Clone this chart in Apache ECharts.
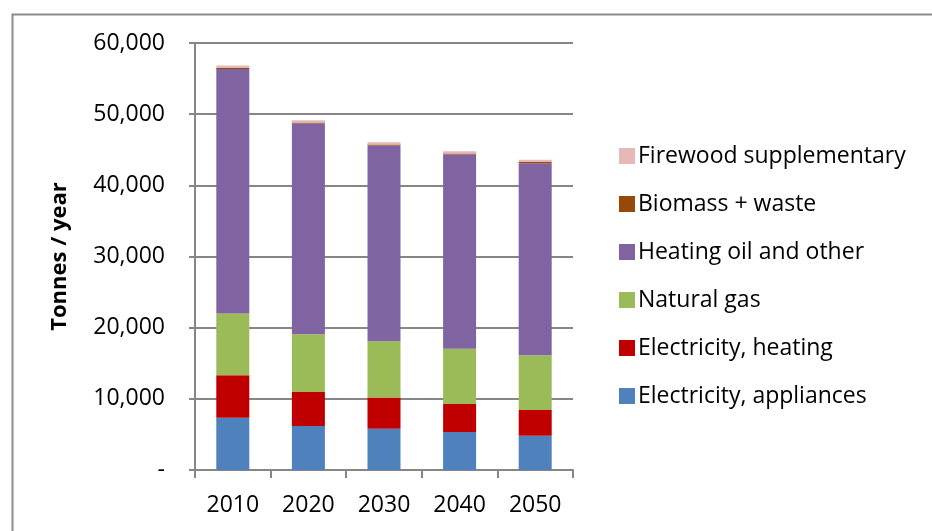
<!DOCTYPE html>
<html>
<head>
<meta charset="utf-8">
<script src="https://cdn.jsdelivr.net/npm/echarts@6/dist/echarts.min.js"></script>
<style>
html,body{margin:0;padding:0;background:#fff;}
#chart{width:932px;height:531px;}
</style>
</head>
<body>
<div id="chart"></div>
<script>
const categories = ['2010', '2020', '2030', '2040', '2050'];
const elecAppliances = [7350, 6180, 5800, 5340, 4820];
const elecHeating = [5950, 4780, 4400, 3930, 3610];
const naturalGas = [8700, 8100, 7900, 7770, 7680];
const heatingOil = [34350, 29630, 27480, 27300, 27010];
const biomassWaste = [150, 150, 150, 150, 150];
const firewood = [350, 320, 320, 310, 310];
const yTicks = [0, 10000, 20000, 30000, 40000, 50000, 60000];

const seriesDefs = [
  {name: 'Electricity, appliances', data: elecAppliances, color: '#4F81BD'},
  {name: 'Electricity, heating', data: elecHeating, color: '#C00000'},
  {name: 'Natural gas', data: naturalGas, color: '#9BBB59'},
  {name: 'Heating oil and other', data: heatingOil, color: '#8064A2'},
  {name: 'Biomass + waste', data: biomassWaste, color: '#984807'},
  {name: 'Firewood supplementary', data: firewood, color: '#E6B9B8'}
];

const FONT = '"Open Sans", "Noto Sans", sans-serif';
const chart = echarts.init(document.getElementById('chart'), null, {renderer: 'canvas'});
chart.setOption({
  animation: false,
  backgroundColor: '#fff',
  graphic: [{
    type: 'rect', left: 10, top: 12,
    shape: {width: 960, height: 560},
    style: {fill: 'none', stroke: '#8c8c8c', lineWidth: 2},
    silent: true
  }],
  grid: {left: 195, top: 43, width: 378, height: 427, containLabel: false},
  legend: {
    orient: 'vertical',
    left: 614, top: 139,
    itemWidth: 16, itemHeight: 16,
    itemGap: 24,
    icon: 'rect',
    data: seriesDefs.map(s => s.name).reverse(),
    textStyle: {fontFamily: FONT, fontSize: 23, color: '#000', lineHeight: 24, padding: [0, 0, 0, -2]}
  },
  xAxis: {
    type: 'category',
    data: categories,
    axisLine: {lineStyle: {color: '#868686', width: 2}},
    axisTick: {show: true, length: 8, lineStyle: {color: '#868686', width: 2}},
    axisLabel: {fontFamily: FONT, fontSize: 23, color: '#000', margin: 24}
  },
  yAxis: {
    type: 'value',
    min: yTicks[0], max: yTicks[yTicks.length - 1], interval: 10000,
    name: 'Tonnes / year',
    nameLocation: 'middle',
    nameGap: 124,
    nameTextStyle: {fontFamily: FONT, fontSize: 22, fontWeight: 'bold', color: '#000'},
    axisLine: {show: true, lineStyle: {color: '#868686', width: 2}},
    axisTick: {show: true, length: 6, lineStyle: {color: '#868686', width: 2}},
    splitLine: {lineStyle: {color: '#868686', width: 2}},
    axisLabel: {
      fontFamily: FONT, fontSize: 23, color: '#000', margin: 30,
      formatter: v => v === 0 ? '-' : v.toLocaleString('en-US')
    }
  },
  series: seriesDefs.map(s => ({
    name: s.name,
    type: 'bar',
    stack: 'total',
    barWidth: 33,
    data: s.data,
    itemStyle: {color: s.color}
  }))
});
</script>
</body>
</html>
